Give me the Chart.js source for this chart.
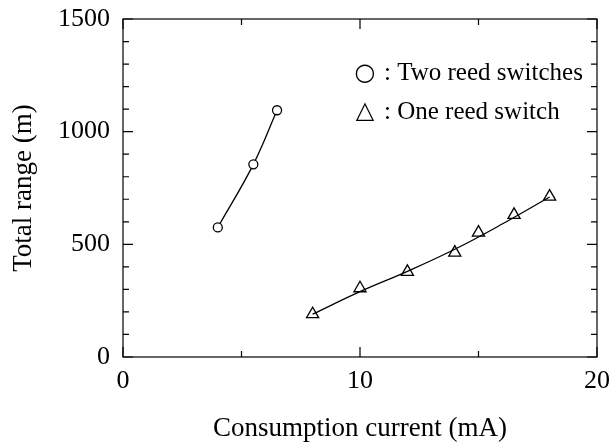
<!doctype html>
<html lang="en">
<head>
	<meta charset="utf-8">
	<title>Total range vs consumption current</title>
	<style>
		* {
			margin: 0;
			padding: 0;
		}

		body {
			background: #ffffff;
		}

		.chartBox {
			width: 612px;
			height: 443px;
		}
	</style>
</head>

<body>
	<div class="chartBox">
		<canvas id="myChart" width="612" height="443"></canvas>
	</div>

	<script src="https://cdn.jsdelivr.net/npm/chart.js"></script>
	<script>
		/*=====Data=====*/
		const twoSwitchCurrent = [4, 5.5, 6.5];
		const twoSwitchRange = [575, 855, 1095];

		const oneSwitchCurrent = [8, 10, 12, 14, 15, 16.5, 18];
		const oneSwitchRange = [190, 305, 378, 463, 552, 631, 712];

		// fitted curve through the one-switch points
		const oneFitCurrent = [8, 10, 12, 14, 16, 18];
		const oneFitRange = [190, 290, 380, 478, 590, 710];

		const xTicks = [0, 10, 20];
		const yTicks = [0, 500, 1000, 1500];

		const legendSymbols = ['\u25CB', '\u25B3'];
		const legendLabels = [': Two reed switches', ': One reed switch'];

		const toPoints = (xs, ys) => xs.map((x, i) => ({ x: x, y: ys[i] }));
		const serif = '"Liberation Serif", "Times New Roman", serif';

		/*=====Frame + inward ticks + legend=====*/
		const frameTicks = {
			id: 'frameTicks',
			afterDraw(chart) {
				const { ctx, chartArea: { left, right, top, bottom }, scales: { x, y } } = chart;
				ctx.save();
				ctx.strokeStyle = '#000';
				ctx.lineWidth = 1.2;
				ctx.strokeRect(left, top, right - left, bottom - top);

				ctx.beginPath();
				for (let v = 0; v <= 20; v += 5) {
					const px = x.getPixelForValue(v);
					const len = (v % 10 === 0) ? 10 : 6;
					ctx.moveTo(px, bottom); ctx.lineTo(px, bottom - len);
					ctx.moveTo(px, top); ctx.lineTo(px, top + len);
				}
				for (let v = 0; v <= 1500; v += 100) {
					const py = y.getPixelForValue(v);
					const len = (v % 500 === 0) ? 10 : 6;
					ctx.moveTo(left, py); ctx.lineTo(left + len, py);
					ctx.moveTo(right, py); ctx.lineTo(right - len, py);
				}
				ctx.stroke();

				// legend
				ctx.fillStyle = '#000';
				ctx.textBaseline = 'middle';
				ctx.textAlign = 'center';
				ctx.font = '24px "DejaVu Sans", sans-serif';
				ctx.fillText(legendSymbols[0], 365, 74);
				ctx.fillText(legendSymbols[1], 365, 112);
				ctx.textAlign = 'left';
				ctx.font = '25px ' + serif;
				ctx.fillText(legendLabels[0], 384, 73);
				ctx.fillText(legendLabels[1], 384, 112);
				ctx.restore();
			}
		};

		/*=====Config=====*/
		const data = {
			datasets: [
				{
					label: 'Two reed switches',
					data: toPoints(twoSwitchCurrent, twoSwitchRange),
					showLine: true,
					tension: 0.4,
					borderColor: '#000',
					borderWidth: 1.3,
					pointStyle: 'circle',
					pointRadius: 4.5,
					pointBorderWidth: 1.3,
					pointBackgroundColor: '#fff',
					pointBorderColor: '#000'
				},
				{
					label: 'fit',
					data: toPoints(oneFitCurrent, oneFitRange),
					showLine: true,
					tension: 0.4,
					borderColor: '#000',
					borderWidth: 1.3,
					pointRadius: 0
				},
				{
					label: 'One reed switch',
					data: toPoints(oneSwitchCurrent, oneSwitchRange),
					showLine: false,
					pointStyle: 'triangle',
					pointRadius: 7,
					pointBorderWidth: 1.3,
					pointBackgroundColor: '#fff',
					pointBorderColor: '#000'
				}
			]
		};

		const config = {
			type: 'scatter',
			data,
			options: {
				responsive: false,
				animation: false,
				layout: { padding: { top: 19, right: 15, left: 0, bottom: 0 } },
				plugins: {
					legend: { display: false },
					tooltip: { enabled: false }
				},
				scales: {
					x: {
						type: 'linear',
						min: 0,
						max: 20,
						afterBuildTicks: (s) => { s.ticks = xTicks.map(v => ({ value: v })); },
						afterFit: (s) => { s.height = 86; s.paddingLeft = 0; s.paddingRight = 0; },
						grid: { display: false, drawTicks: false },
						border: { display: false },
						ticks: {
							color: '#000',
							padding: 9,
							maxRotation: 0,
							callback: (v) => String(v),
							font: { family: serif, size: 26 }
						},
						title: {
							display: true,
							text: 'Consumption current (mA)',
							color: '#000',
							padding: { top: 0, bottom: -2 },
							font: { family: serif, size: 27 }
						}
					},
					y: {
						type: 'linear',
						min: 0,
						max: 1500,
						afterBuildTicks: (s) => { s.ticks = yTicks.map(v => ({ value: v })); },
						afterFit: (s) => { s.width = 123; s.paddingTop = 0; s.paddingBottom = 0; },
						grid: { display: false, drawTicks: false },
						border: { display: false },
						ticks: {
							color: '#000',
							padding: 13,
							callback: (v) => String(v),
							font: { family: serif, size: 26 }
						},
						title: {
							display: true,
							text: 'Total range (m)',
							color: '#000',
							padding: { top: 8, bottom: 0 },
							font: { family: serif, size: 27 }
						}
					}
				}
			},
			plugins: [frameTicks]
		};

		const myChart = new Chart(document.getElementById('myChart'), config);
	</script>
</body>

</html>
